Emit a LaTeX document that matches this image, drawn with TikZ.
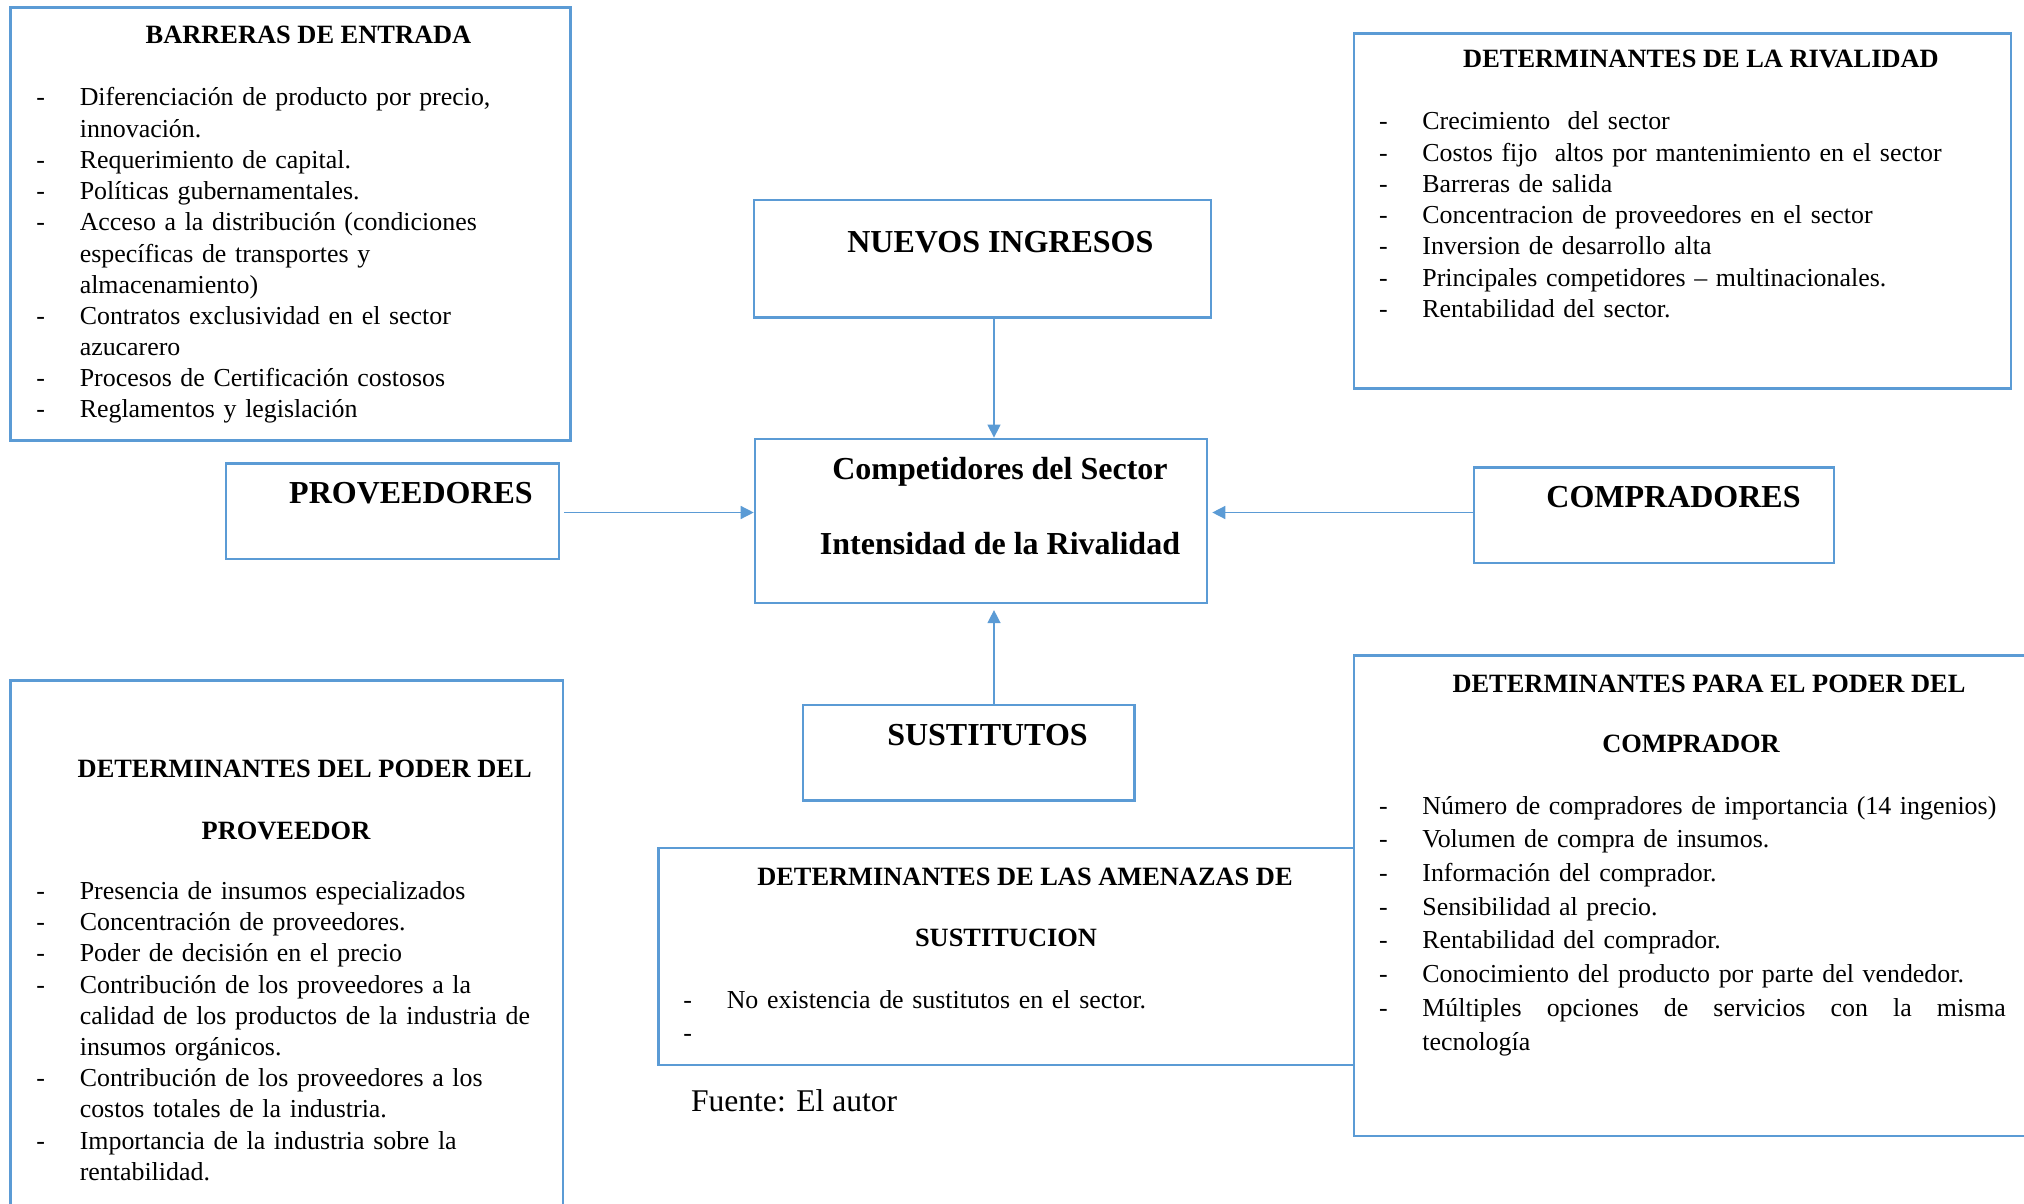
\documentclass[tikz,border=0pt]{standalone}
\usepackage{fontspec}
\setmainfont{Liberation Serif}
\usetikzlibrary{arrows.meta,fit}
\definecolor{bl}{HTML}{5B9BD5}
\newcommand\litem[1]{\makebox[21.7pt][l]{-}#1}
\newcommand\lcont[1]{\hspace*{21.7pt}#1}
\tikzset{
 box/.style={draw=bl, line width=1.3pt, inner sep=0pt},
 arr/.style={draw=bl, line width=0.7pt, -{Triangle[length=6.5pt,width=6.5pt]}},
 ttl/.style={font=\fontsize{13.2}{15.6}\selectfont\bfseries, anchor=base, inner sep=0pt},
 big/.style={font=\fontsize{16}{19}\selectfont\bfseries, anchor=base, inner sep=0pt},
 lst/.style={font=\fontsize{12.95}{15.6}\selectfont, anchor=base west, inner sep=0pt, align=left, text width=330pt},
 lstw/.style={font=\fontsize{12.95}{16.87}\selectfont, anchor=base west, inner sep=0pt, align=left, text width=330pt},
}
\begin{document}
\begin{tikzpicture}[x=0.5pt,y=-0.5pt]
\path[use as bounding box] (0,0) rectangle (2024,1204);
\clip (0,0) rectangle (2024,1204);
% boxes
\node[box, fit={(10.3,7.7) (570.5,440.2)}] (barr) {};
\node[box, fit={(1354,33.6) (2011,388.5)}] (riv) {};
\node[box, fit={(753.8,200) (1210.8,317.5)}] (nuev) {};
\node[box, fit={(755,438.9) (1207,602.8)}] (cent) {};
\node[box, fit={(225.9,463.4) (559,559)}] (prov) {};
\node[box, fit={(1474,467.3) (1834,562.8)}] (comp) {};
\node[box, fit={(803,704.8) (1134.6,800.3)}] (sust) {};
\node[box, fit={(10.3,680.3) (562.8,1215)}] (dprov) {};
\node[box, fit={(658.3,848) (1354,1065)}] (amen) {};
\node[box, fit={(1354,655.7) (2035,1136)}] (dcomp) {};
% titles
\node[ttl] (barrT) at (308.5,43.6) {BARRERAS DE ENTRADA};
\node[ttl] (rivT) at (1701,68) {DETERMINANTES DE LA RIVALIDAD};
\node[big] (nuevT) at (1000.4,252) {NUEVOS INGRESOS};
\node[big] (centT1) at (1000,479) {Competidores del Sector};
\node[big] (centT2) at (1000,554) {Intensidad de la Rivalidad};
\node[big] (provT) at (411,503.6) {PROVEEDORES};
\node[big] (compT) at (1673.5,507.6) {COMPRADORES};
\node[big] (sustT) at (987.5,745) {SUSTITUTOS};
\node[ttl] (dprovT1) at (304.7,777) {DETERMINANTES DEL PODER DEL};
\node[ttl] (dprovT2) at (286,839) {PROVEEDOR};
\node[ttl] (amenT1) at (1025,885) {DETERMINANTES DE LAS AMENAZAS DE};
\node[ttl] (amenT2) at (1006,946) {SUSTITUCION};
\node[ttl] (dcompT1) at (1709,692) {DETERMINANTES PARA EL PODER DEL};
\node[ttl] (dcompT2) at (1691,752) {COMPRADOR};
% lists
\node[lst] (barrL) at (36,106) {\litem{Diferenciación de producto por precio,}\\
\lcont{innovación.}\\
\litem{Requerimiento de capital.}\\
\litem{Políticas gubernamentales.}\\
\litem{Acceso a la distribución (condiciones}\\
\lcont{específicas de transportes y}\\
\lcont{almacenamiento)}\\
\litem{Contratos exclusividad en el sector}\\
\lcont{azucarero}\\
\litem{Procesos de Certificación costosos}\\
\litem{Reglamentos y legislación}};
\node[lst] (rivL) at (1378.6,130) {\litem{Crecimiento \ del sector}\\
\litem{Costos fijo \ altos por mantenimiento en el sector}\\
\litem{Barreras de salida}\\
\litem{Concentracion de proveedores en el sector}\\
\litem{Inversion de desarrollo alta}\\
\litem{Principales competidores – multinacionales.}\\
\litem{Rentabilidad del sector.}};
\node[lst] (dprovL) at (36,899.5) {\litem{Presencia de insumos especializados}\\
\litem{Concentración de proveedores.}\\
\litem{Poder de decisión en el precio}\\
\litem{Contribución de los proveedores a la}\\
\lcont{calidad de los productos de la industria de}\\
\lcont{insumos orgánicos.}\\
\litem{Contribución de los proveedores a los}\\
\lcont{costos totales de la industria.}\\
\litem{Importancia de la industria sobre la}\\
\lcont{rentabilidad.}};
\node[lstw] (amenL) at (683,1008) {\litem{No existencia de sustitutos en el sector.}\\
\litem{}};
\node[lstw] (dcompL) at (1378.6,814) {\litem{Número de compradores de importancia (14 ingenios)}\\
\litem{Volumen de compra de insumos.}\\
\litem{Información del comprador.}\\
\litem{Sensibilidad al precio.}\\
\litem{Rentabilidad del comprador.}\\
\litem{Conocimiento del producto por parte del vendedor.}\\
\litem{\hbox to 291.75pt{Múltiples\hfill opciones\hfill de\hfill servicios\hfill con\hfill la\hfill misma}}\\
\lcont{tecnología}};
\node[font=\fontsize{15.8}{19}\selectfont, anchor=base west, inner sep=0pt] (fuente) at (690.6,1111.6) {Fuente: El autor};
% connectors
\coordinate (ax) at (994,0);
\coordinate (ay) at (0,512.5);
\draw[arr] (nuev.south -| ax) -- (cent.north -| ax);
\draw[arr, shorten >=3pt] (sust.north -| ax) -- (cent.south -| ax);
\draw[arr, shorten <=2pt] (prov.east |- ay) -- (cent.west |- ay);
\draw[arr, shorten >=2pt] (comp.west |- ay) -- (cent.east |- ay);
\end{tikzpicture}
\end{document}
